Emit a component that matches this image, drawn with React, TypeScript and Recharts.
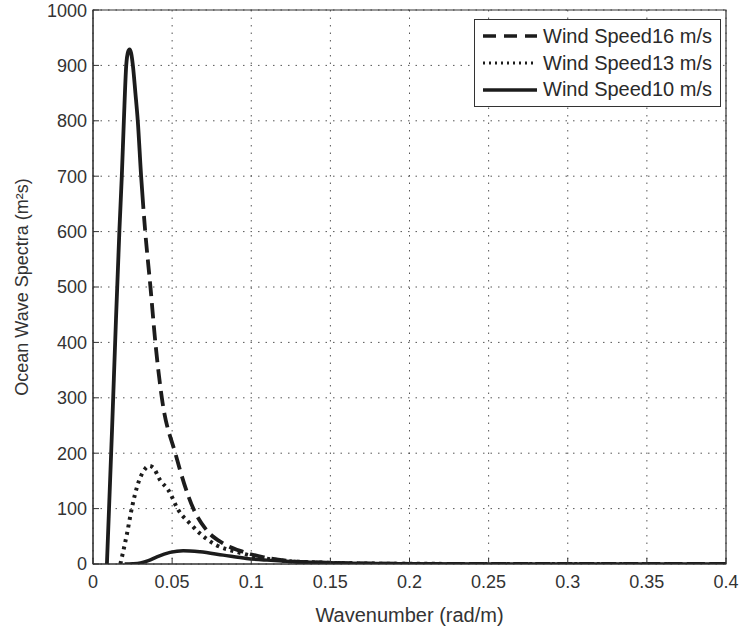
import React from 'react';
import {
  LineChart,
  Line,
  XAxis,
  YAxis,
  CartesianGrid,
  Legend,
  ReferenceArea,
} from 'recharts';

// Wind Speed 16 m/s
const waveK16 = [
  0.0088, 0.012, 0.0145, 0.0167, 0.0182, 0.0195, 0.021, 0.0222, 0.0231, 0.0241,
  0.0252, 0.0268, 0.0283, 0.0304, 0.033, 0.0363, 0.0394, 0.0435, 0.052, 0.0634,
  0.0718, 0.0823, 0.0948, 0.108, 0.122, 0.14, 0.16, 0.2, 0.25, 0.3, 0.35, 0.4,
];
const spectra16 = [
  0, 240, 440, 603, 700, 800, 900, 925, 929, 922,
  900, 850, 800, 700, 600, 500, 400, 300, 200, 100,
  61, 37, 22, 12, 6, 3, 1.5, 0.4, 0.1, 0, 0, 0,
];

// Wind Speed 13 m/s
const waveK13 = [
  0.0173, 0.0215, 0.0247, 0.0278, 0.033, 0.0355, 0.038, 0.0425, 0.0477, 0.054,
  0.0613, 0.0676, 0.078, 0.0907, 0.105, 0.12, 0.14, 0.16, 0.2, 0.25, 0.3, 0.4,
];
const spectra13 = [
  0, 55, 103, 139, 172, 177, 174, 151, 133, 97,
  73, 55, 34, 22, 12, 6, 3, 1.5, 0.4, 0.1, 0, 0,
];

// Wind Speed 10 m/s
const waveK10 = [
  0.02, 0.025, 0.03, 0.035, 0.0404, 0.0487, 0.057, 0.0676, 0.0823, 0.097,
  0.11, 0.125, 0.14, 0.16, 0.2, 0.25, 0.3, 0.4,
];
const spectra10 = [
  0, 0.5, 2, 6, 13, 21, 24, 22, 16, 10,
  7, 4.5, 3, 1.5, 0.5, 0.1, 0, 0,
];

const seriesNames = ['Wind Speed16 m/s', 'Wind Speed13 m/s', 'Wind Speed10 m/s'];
const xTicks = [0, 0.05, 0.1, 0.15, 0.2, 0.25, 0.3, 0.35, 0.4];
const yTicks = [0, 100, 200, 300, 400, 500, 600, 700, 800, 900, 1000];

const toPoints = (ks: number[], vals: number[]) => ks.map((k, i) => ({ k, s: vals[i] }));
const data16 = toPoints(waveK16, spectra16);
const data13 = toPoints(waveK13, spectra13);
const data10 = toPoints(waveK10, spectra10);

const FONT = '"Liberation Sans", Arial, sans-serif';
const INK = '#1c1c1c';

// the 16 m/s curve looks solid up the peak and only breaks into dashes on the way down
const dash16 = ['676 7', ...Array(90).fill('15 7')].join(' ');
const dot13 = '3 4.5';

const sampleStyles = [
  { dash: '13 8', width: 3.5 },
  { dash: '2 4', width: 3 },
  { dash: undefined, width: 3.5 },
];

function LegendBox() {
  return (
    <div
      style={{
        border: '1px solid #333',
        background: '#fff',
        padding: '3px 8px 3px 8px',
        fontFamily: FONT,
        fontSize: 20,
        color: '#2a2a2a',
        boxSizing: 'border-box',
      }}
    >
      {seriesNames.map((name, i) => (
        <div key={name} style={{ display: 'flex', alignItems: 'center', height: 26.7, justifyContent: 'flex-end' }}>
          <svg width={56} height={10} style={{ marginRight: 6 }}>
            <line
              x1={0}
              y1={5}
              x2={56}
              y2={5}
              stroke={INK}
              strokeWidth={sampleStyles[i].width}
              strokeDasharray={sampleStyles[i].dash}
            />
          </svg>
          <span style={{ whiteSpace: 'nowrap' }}>{name}</span>
        </div>
      ))}
    </div>
  );
}

export default function App() {
  return (
    <div style={{ position: 'absolute', left: 0, top: 0, background: '#fff' }}>
      <LineChart
        width={744}
        height={628}
        margin={{ top: 10, right: 18, bottom: 0, left: 0 }}
        style={{ fontFamily: FONT }}
      >
        <CartesianGrid stroke="#555" strokeDasharray="1.5 6" />
        <XAxis
          type="number"
          dataKey="k"
          domain={[0, 0.4]}
          ticks={xTicks}
          tickFormatter={(v: number) => String(v)}
          height={64}
          tickSize={-6}
          tickMargin={17}
          tickLine={{ stroke: '#333' }}
          axisLine={{ stroke: '#333' }}
          tick={{ fill: '#333', fontSize: 18 }}
          allowDataOverflow
          label={{
            value: 'Wavenumber (rad/m)',
            position: 'insideBottom',
            offset: 6,
            style: { fill: '#333', fontSize: 20 },
          }}
        />
        <YAxis
          type="number"
          domain={[0, 1000]}
          ticks={yTicks}
          width={93}
          tickSize={-6}
          tickMargin={12}
          tickLine={{ stroke: '#333' }}
          axisLine={{ stroke: '#333' }}
          tick={{ fill: '#333', fontSize: 18 }}
          allowDataOverflow
          label={{
            value: 'Ocean Wave Spectra (m²s)',
            angle: -90,
            position: 'insideLeft',
            offset: 22,
            style: { fill: '#333', fontSize: 18, textAnchor: 'middle' },
          }}
        />
        <ReferenceArea x1={0} x2={0.4} y1={0} y2={1000} fill="none" stroke="#333" strokeWidth={1.2} />
        <Line
          data={data10}
          dataKey="s"
          name={seriesNames[2]}
          type="monotone"
          stroke={INK}
          strokeWidth={3.5}
          dot={false}
          activeDot={false}
          isAnimationActive={false}
        />
        <Line
          data={data13}
          dataKey="s"
          name={seriesNames[1]}
          type="monotone"
          stroke={INK}
          strokeWidth={4}
          strokeDasharray={dot13}
          dot={false}
          activeDot={false}
          isAnimationActive={false}
        />
        <Line
          data={data16}
          dataKey="s"
          name={seriesNames[0]}
          type="monotone"
          stroke={INK}
          strokeWidth={3.8}
          strokeDasharray={dash16}
          dot={false}
          activeDot={false}
          isAnimationActive={false}
        />
        <Legend
          layout="vertical"
          align="center"
          verticalAlign="middle"
          content={() => <LegendBox />}
          wrapperStyle={{ top: 19, left: 474, width: 247 }}
        />
      </LineChart>
    </div>
  );
}
